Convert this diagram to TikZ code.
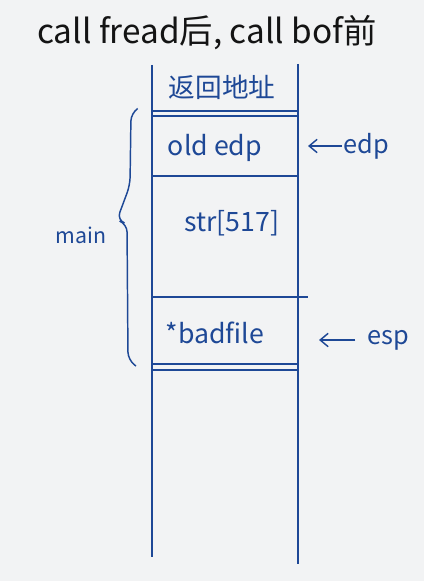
\documentclass[tikz,border=0pt]{standalone}
\usepackage{fontspec}
\setmainfont{Noto Sans CJK SC}
\usetikzlibrary{arrows.meta}
\definecolor{paper}{RGB}{242, 243, 244}
\definecolor{inkblue}{RGB}{30, 72, 150}
\definecolor{inkblack}{RGB}{20, 20, 20}

\begin{document}
\begin{tikzpicture}[
    x=0.75pt, y=-0.75pt,
    % Stack frame styles
    stackline/.style={
        draw=inkblue,
        line width=1.1pt
    },
    celltext/.style={
        text=inkblue,
        font=\fontsize{20}{22}\selectfont,
        inner sep=0pt
    },
    reglabel/.style={
        text=inkblue,
        font=\fontsize{19}{21}\selectfont,
        inner sep=1pt
    },
    regarrow/.style={
        -{Straight Barb[length=6pt,width=10pt]},
        draw=inkblue,
        line width=1.1pt
    }
]

    % =========================================================================
    % 1. BACKGROUND AND TITLE
    % =========================================================================
    \fill[paper] (0,0) rectangle (424,581);
    \useasboundingbox (0,0) rectangle (424,581);

    \node[text=inkblack, font=\fontsize{25}{27}\selectfont] (title) at (207,33)
        {call fread后, call bof前};

    % =========================================================================
    % 2. STACK WALLS AND CELL BORDERS
    % =========================================================================
    \draw[stackline] (152,65) -- (152,557);
    \draw[stackline] (298,64) -- (298,564);

    % Double line below the return address
    \draw[stackline] (152,111) -- (298,111);
    \draw[stackline] (152,116) -- (298,116);

    % Below old edp
    \draw[stackline] (152,176) -- (298,176);

    % Below str[517]
    \draw[stackline] (152,297) -- (308,297);

    % Double line below *badfile
    \draw[stackline] (152,364) -- (298,364);
    \draw[stackline] (152,370) -- (298,370);

    % =========================================================================
    % 3. CELL CONTENTS
    % =========================================================================
    \node[celltext] (retaddr) at (222,87) {返回地址};
    \node[celltext] (oldedp)  at (215,148) {old edp};
    \node[celltext] (strbuf)  at (232,223) {str[517]};
    \node[celltext] (badfile) at (215,333) {*badfile};

    % =========================================================================
    % 4. REGISTER POINTERS
    % =========================================================================
    \node[reglabel, anchor=west] (edp) at (342,146) {edp};
    \coordinate (edp_tip) at (308,146);
    \draw[regarrow] (edp.west) -- (edp_tip);

    \node[reglabel, anchor=west] (esp) at (366,340) {esp};
    \coordinate (esp_tip) at (319,340);
    \draw[regarrow, shorten <=8pt] (esp.west) -- (esp_tip);

    % =========================================================================
    % 5. MAIN FRAME BRACE
    % =========================================================================
    \draw[stackline, rounded corners=6pt]
        (137,109) -- (131,113) -- (130,185) -- (117,220)
        -- (127,224) -- (128,360) -- (136,366);
    \node[reglabel, font=\fontsize{16}{18}\selectfont] (mainframe) at (81,235) {main};

\end{tikzpicture}
\end{document}
